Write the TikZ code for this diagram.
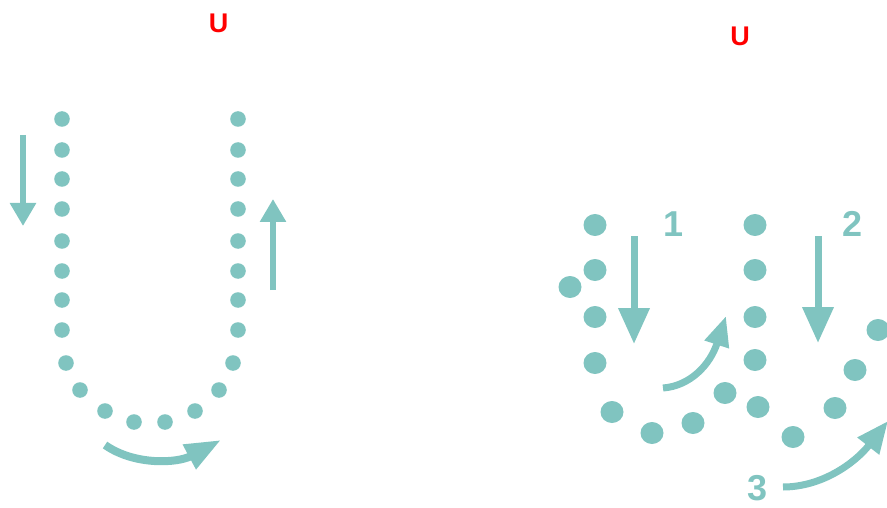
\documentclass[tikz,border=0pt]{standalone}
\usepackage{fontspec}
\setmainfont{Liberation Sans}
\usetikzlibrary{arrows.meta}
\definecolor{teal1}{HTML}{80C4C0}
\definecolor{red1}{HTML}{FF0000}
\tikzset{
  dotsmall/.style={fill=teal1},
  arr/.style={draw=teal1, line width=6pt, -{Triangle[length=23pt,width=25pt]}},
  carr/.style={draw=teal1, line width=8pt, -{Triangle[length=36pt,width=26pt]}},
  titlelbl/.style={text=red1, font=\bfseries\fontsize{27}{27}\selectfont, inner sep=0pt},
  numlbl/.style={text=teal1, font=\bfseries\fontsize{36}{36}\selectfont, inner sep=0pt}
}
\begin{document}
\begin{tikzpicture}[x=1pt,y=-1pt]
\useasboundingbox (0,0) rectangle (887,508);
% titles
\node[titlelbl] (t1) at (218.5,23) {U};
\node[titlelbl] (t2) at (740,36) {U};
% left U dots
\foreach \x/\y in {62/119,62/150,62/179,62/209,62/241,62/271,62/300,62/330,
  66/363,80/390,105/411,134/422,165/422,195/411,219/390,233/363,
  238/330,238/300,238/271,238/241,238/209,238/179,238/150,238/119}
  \fill[dotsmall] (\x,\y) circle (7.8);
% left straight arrows
\coordinate (a1s) at (23,135); \coordinate (a1e) at (23,226);
\draw[arr] (a1s) -- (a1e);
\coordinate (a2s) at (273,290); \coordinate (a2e) at (273,199);
\draw[arr] (a2s) -- (a2e);
% left curved arrow
\coordinate (c1s) at (105,445); \coordinate (c1e) at (221,440);
\draw[carr] (c1s) .. controls (135,466) and (178,463) .. (c1e);
% right dots
\foreach \x/\y in {595/225,595/270,570/287,595/317,595/363,612/412,652/433,693/423,725/393,
  755/225,755/270,755/317,755/360,758/407,793/437,835/408,855/370,878/330}
  \fill[dotsmall] (\x,\y) ellipse (11.5 and 11);
% right straight arrows
\coordinate (b1s) at (634,236); \coordinate (b1e) at (634,344);
\draw[arr, -{Triangle[length=36pt,width=30pt]}, line width=7pt] (b1s) -- (b1e);
\coordinate (b2s) at (818,236); \coordinate (b2e) at (818,343);
\draw[arr, -{Triangle[length=36pt,width=30pt]}, line width=7pt] (b2s) -- (b2e);
% right curved arrows
\coordinate (c2s) at (663,388); \coordinate (c2e) at (726,316);
\draw[carr, line width=7pt, -{Triangle[length=30pt,width=24pt]}] (c2s) .. controls (690,386) and (710,365) .. (c2e);
\coordinate (c3s) at (783,487); \coordinate (c3e) at (888,421);
\draw[carr, line width=7pt, -{Triangle[length=32pt,width=26pt]}] (c3s) .. controls (822,487) and (855,463) .. (c3e);
% numbers
\node[numlbl] (n1) at (674,224) {1};
\node[numlbl] (n2) at (853,224) {2};
\node[numlbl] (n3) at (758,488) {3};
\end{tikzpicture}
\end{document}
